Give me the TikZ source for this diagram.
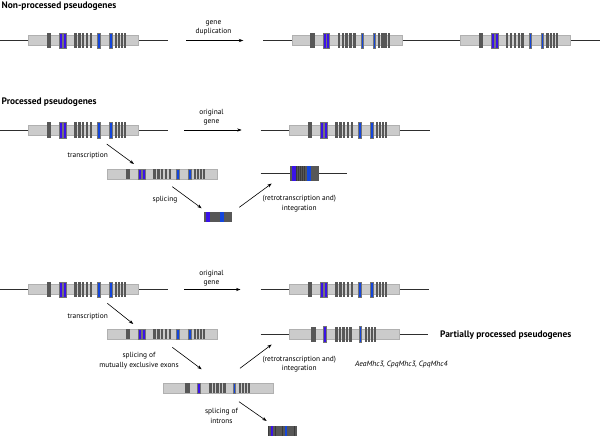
\documentclass[tikz,border=0pt]{standalone}
\usepackage{fontspec}
\setmainfont{PT Sans}
\usetikzlibrary{arrows.meta}
\definecolor{boxc}{HTML}{CBCBCB}
\definecolor{boxl}{HTML}{B0B0B0}
\definecolor{exd}{HTML}{575757}
\definecolor{exp}{HTML}{3A12E8}
\definecolor{exb}{HTML}{1446DC}
\definecolor{linec}{HTML}{2E2E2E}
\definecolor{blockbg}{HTML}{3A3A3A}
\tikzset{
  dnaline/.style={draw=linec, line width=0.8},
  genebox/.style={fill=boxc, draw=boxl, line width=0.3, inner sep=0, outer sep=0, anchor=west, minimum height=10},
  exon/.style={draw=black!55, line width=0.2},
  flowarrow/.style={-{Stealth[length=4.5,width=3.2]}, line width=0.6, draw=black},
  lbl/.style={font=\fontsize{7.4}{9.6}\selectfont, align=center, inner sep=0},
  ttl/.style={font=\bfseries\fontsize{9.4}{11}\selectfont, inner sep=0},
}
% full gene: name, x0, y, stripe half height
\newcommand{\fullgene}[4]{%
  \node[genebox, minimum width=110] (#1) at (#2,#3) {};
  \begin{scope}[shift={(#2,#3)}]
  \foreach \a/\w in {18.7/4.3, 46/2.4, 49.85/2.4, 53.7/2.4, 57.55/2.4, 61.4/2.4, 86.4/2.3, 89.55/2.3, 92.7/2.3, 95.85/2.3}
    \fill[exd] (\a,-#4) rectangle ++(\w,2*#4);
  \foreach \a/\w/\c in {31/3.2/exp, 34.6/3.2/exp, 69/2.3/exb, 81/2.3/exb}
    \filldraw[exon, fill=\c] (\a,-#4) rectangle ++(\w,2*#4);
  \end{scope}}
% partially processed gene
\newcommand{\partgene}[4]{%
  \node[genebox, minimum width=110] (#1) at (#2,#3) {};
  \begin{scope}[shift={(#2,#3)}]
  \foreach \a/\w in {22/4.2, 46/2.3, 49.5/2.3, 53/2.3, 56.5/2.3, 60/2.3, 75.7/2.2, 78.7/2.2, 81.7/2.2, 84.7/2.2}
    \fill[exd] (\a,-#4) rectangle ++(\w,2*#4);
  \foreach \a/\w/\c in {33.4/3.2/exp, 69.7/2.3/exb}
    \filldraw[exon, fill=\c] (\a,-#4) rectangle ++(\w,2*#4);
  \end{scope}}
% spliced block: name, x0, y, exon width, half height, colour list
\newcommand{\splblock}[6]{%
  \begin{scope}[shift={(#2,#3)}]
  \foreach \c [count=\i from 0] in {#6}{
    \pgfmathsetmacro{\xl}{\i*#4}
    \fill[blockbg] (\xl,-#5) rectangle ++(#4,2*#5);
    \fill[\c] (\xl+0.3,-#5) rectangle ++(#4-0.3,2*#5);}
  \end{scope}
  \coordinate (#1-w) at (#2,#3);}
\begin{document}
\begin{tikzpicture}[x=1pt,y=-1pt]
\useasboundingbox (0,0) rectangle (600,436);
\fill[white] (0,0) rectangle (600,436);

% ---------- Row 1: non-processed ----------
\node[ttl, anchor=base west] (t1) at (1.5,8.3) {Non-processed pseudogenes};
\coordinate (r1a) at (0,40.5);
\coordinate (r1b) at (168.3,40.5);
\draw[dnaline] (r1a) -- (r1b);
\fullgene{g1}{28.3}{40.5}{7.8}
\coordinate (r1c) at (263.3,40.5);
\coordinate (r1d) at (600,40.5);
\draw[dnaline] (r1c) -- (r1d);
\fullgene{g1b}{291.7}{40.5}{7.8}
\fullgene{g1c}{460}{40.5}{7.8}
\coordinate (a1s) at (186,40.5);
\coordinate (a1e) at (243.3,40.5);
\draw[flowarrow] (a1s) -- (a1e);
\node[lbl] (l1) at (213.5,27.8) {gene\\duplication};

% ---------- Row 2: processed ----------
\node[ttl, anchor=base west] (t2) at (1.5,104.5) {Processed pseudogenes};
\coordinate (r2a) at (0,130);
\coordinate (r2b) at (168.3,130);
\draw[dnaline] (r2a) -- (r2b);
\fullgene{g2}{28.3}{130}{7.8}
\coordinate (r2c) at (260.7,130);
\coordinate (r2d) at (430,130);
\draw[dnaline] (r2c) -- (r2d);
\fullgene{g2b}{289.3}{130}{7.8}
\coordinate (a2s) at (184,130);
\coordinate (a2e) at (241.7,130);
\draw[flowarrow] (a2s) -- (a2e);
\node[lbl] (l2) at (211.5,117) {original\\gene};

\fullgene{m2}{107.3}{174}{5}
\coordinate (a3s) at (106.7,144);
\coordinate (a3e) at (134,164);
\draw[flowarrow] (a3s) -- (a3e);
\node[lbl] (l3) at (87.8,155.7) {transcription};

\splblock{s2}{204}{216.5}{2}{5}{exd,exp,exp,exd,exd,exd,exd,exd,exb,exb,exd,exd,exd,exd}
\coordinate (a4s) at (172.3,186.7);
\coordinate (a4e) at (201.7,208.3);
\draw[flowarrow] (a4s) -- (a4e);
\node[lbl] (l4) at (165,199.3) {splicing};

\coordinate (r2e) at (260.7,173.3);
\coordinate (r2f) at (347.3,173.3);
\draw[dnaline] (r2e) -- (r2f);
\splblock{p2}{290}{173.3}{2.07}{7.6}{exd,exp,exp,exd,exd,exd,exd,exd,exb,exb,exd,exd,exd,exd}
\coordinate (a5s) at (239.3,207.3);
\coordinate (a5e) at (271.7,183.5);
\draw[flowarrow] (a5s) -- (a5e);
\node[lbl] (l5) at (299.3,203.6) {(retrotranscription and)\\integration};

% ---------- Row 3: partially processed ----------
\coordinate (r3a) at (0,289.5);
\coordinate (r3b) at (168.3,289.5);
\draw[dnaline] (r3a) -- (r3b);
\fullgene{g3}{28.3}{289.5}{7.8}
\coordinate (r3c) at (260.7,289.5);
\coordinate (r3d) at (429.3,289.5);
\draw[dnaline] (r3c) -- (r3d);
\fullgene{g3b}{289.3}{289.5}{7.8}
\coordinate (a6s) at (184,289.5);
\coordinate (a6e) at (240.5,289.5);
\draw[flowarrow] (a6s) -- (a6e);
\node[lbl] (l6) at (211.5,278.3) {original\\gene};

\fullgene{m3}{107.3}{334.3}{5}
\coordinate (a7s) at (107.3,303.3);
\coordinate (a7e) at (133.3,324);
\draw[flowarrow] (a7s) -- (a7e);
\node[lbl] (l7) at (87.8,316.7) {transcription};

\partgene{me3}{163.3}{388.3}{5}
\coordinate (a8s) at (172.3,347.3);
\coordinate (a8e) at (201.7,369.3);
\draw[flowarrow] (a8s) -- (a8e);
\node[lbl] (l8) at (139,360.8) {splicing of\\mutually exclusive exons};

\coordinate (r3e) at (260.7,334.3);
\coordinate (r3f) at (428.3,334.3);
\draw[dnaline] (r3e) -- (r3f);
\partgene{pp3}{289.3}{334.3}{7.8}
\coordinate (a9s) at (240,368.3);
\coordinate (a9e) at (271.7,344.5);
\draw[flowarrow] (a9s) -- (a9e);
\node[lbl] (l9) at (299.3,364.2) {(retrotranscription and)\\integration};

\coordinate (a10s) at (239,401.7);
\coordinate (a10e) at (266.7,421);
\draw[flowarrow] (a10s) -- (a10e);
\node[lbl] (l10) at (221.5,416.2) {splicing of\\introns};
\splblock{f3}{268.3}{431}{2.36}{5}{exd,exp,exd,exd,exd,exd,exd,exb,exd,exd,exd,exd}

\node[ttl, anchor=west] (t3) at (440,335.6) {Partially processed pseudogenes};
\node[lbl, font=\itshape\fontsize{7.6}{9.6}\selectfont] (sp) at (401.3,364.3) {AeaMhc3, CpqMhc3, CpqMhc4};
\end{tikzpicture}
\end{document}
